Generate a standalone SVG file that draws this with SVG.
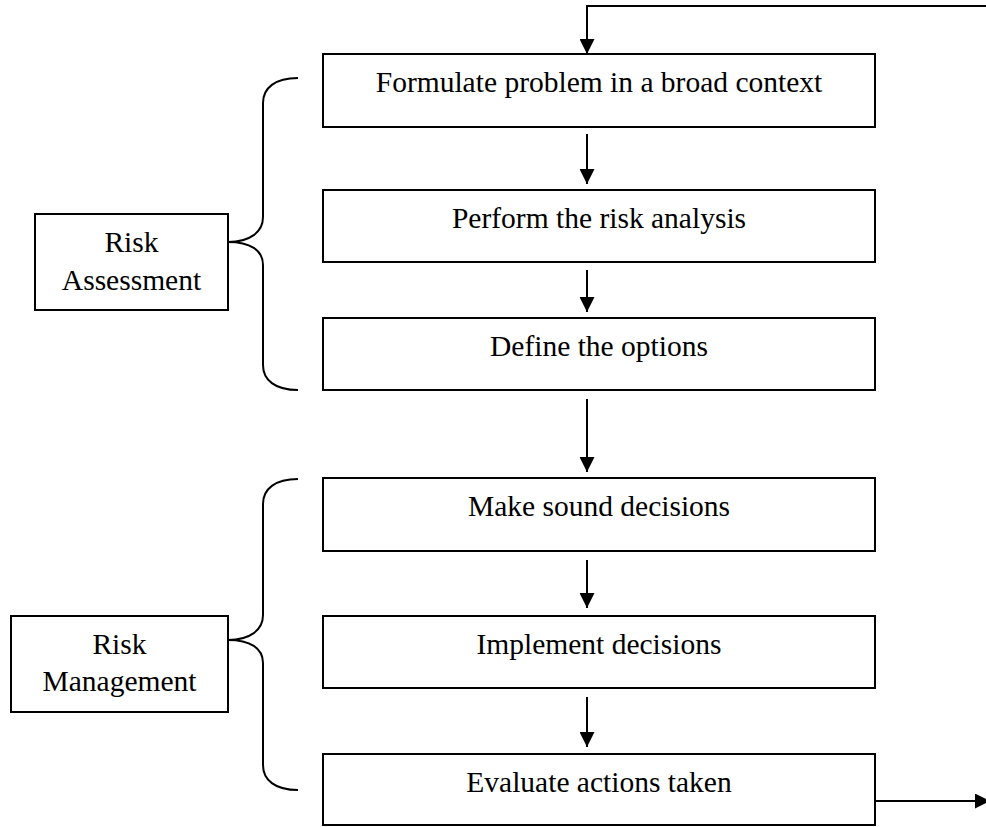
<svg xmlns="http://www.w3.org/2000/svg" width="986" height="827" viewBox="0 0 986 827">
<style>
.box{fill:#fff;stroke:#000;stroke-width:2}
.t{font-family:"Liberation Serif","Times New Roman",serif;font-size:29.5px;fill:#000;text-anchor:middle}
.c{fill:none;stroke:#000;stroke-width:2}
</style>
<defs>
<marker id="ah" markerWidth="15" markerHeight="15" refX="15" refY="7.5" orient="auto" markerUnits="userSpaceOnUse">
<path d="M0,0 L15,7.5 L0,15 Z" fill="#000"/>
</marker>
</defs>
<rect width="986" height="827" fill="#fff"/>
<g id="n1"><rect class="box" x="323" y="54" width="552" height="73"/><text class="t" x="599" y="92">Formulate problem in a broad context</text></g>
<g id="n2"><rect class="box" x="323" y="190" width="552" height="72"/><text class="t" x="599" y="228">Perform the risk analysis</text></g>
<g id="n3"><rect class="box" x="323" y="318" width="552" height="72"/><text class="t" x="599" y="356">Define the options</text></g>
<g id="n4"><rect class="box" x="323" y="478" width="552" height="73"/><text class="t" x="599" y="516">Make sound decisions</text></g>
<g id="n5"><rect class="box" x="323" y="616" width="552" height="72"/><text class="t" x="599" y="654">Implement decisions</text></g>
<g id="n6"><rect class="box" x="323" y="754" width="552" height="71"/><text class="t" x="599" y="792">Evaluate actions taken</text></g>
<g id="ra"><rect class="box" x="35" y="214" width="193" height="96"/><text class="t" x="131.5" y="252">Risk</text><text class="t" x="131.5" y="290">Assessment</text></g>
<g id="rm"><rect class="box" x="11" y="616" width="217" height="96"/><text class="t" x="119.5" y="654">Risk</text><text class="t" x="119.5" y="691">Management</text></g>
<g id="connectors">
<path class="c" d="M986,6 L587,6 L587,54" marker-end="url(#ah)"/>
<path class="c" d="M587,134 L587,184" marker-end="url(#ah)"/>
<path class="c" d="M587,270 L587,312" marker-end="url(#ah)"/>
<path class="c" d="M587,399 L587,472" marker-end="url(#ah)"/>
<path class="c" d="M587,560 L587,608" marker-end="url(#ah)"/>
<path class="c" d="M587,697 L587,747" marker-end="url(#ah)"/>
<path class="c" d="M875,801 L990,801" marker-end="url(#ah)"/>
<path class="c" d="M298,78 C275,78 263,88 263,103 L263,217 C263,232 250,242 228,242 C250,242 263,250 263,265 L263,365 C263,380 275,390 298,390"/>
<path class="c" d="M298,479 C275,479 263,489 263,504 L263,615 C263,630 250,640 228,640 C250,640 263,648 263,663 L263,765 C263,780 275,790 298,790"/>
</g>
</svg>
